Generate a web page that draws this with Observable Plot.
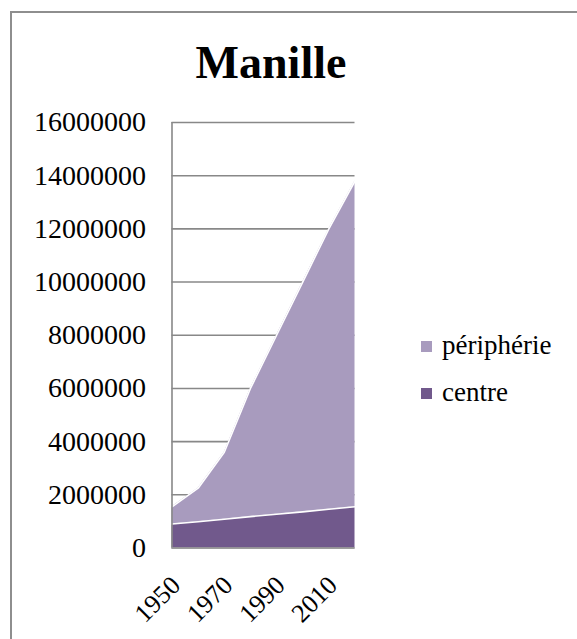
<!DOCTYPE html>
<html>
<head>
<meta charset="utf-8">
<script src="https://cdn.jsdelivr.net/npm/d3@7"></script>
<script src="https://cdn.jsdelivr.net/npm/@observablehq/plot@0.6"></script>
<style>
  html, body { margin: 0; padding: 0; background: #fff; }
  #page { position: relative; width: 577px; height: 639px; overflow: hidden; font-family: "Liberation Serif", serif; color: #000; }
  #frame { position: absolute; left: 10px; top: 11px; width: 640px; height: 720px; border: 2px solid #8e8e8e; pointer-events: none; z-index: 3; }
  #title { position: absolute; left: 0; top: 39.5px; width: 542px; height: 46px; line-height: 46px; font-size: 46px; font-weight: bold; text-align: center; }
  #chart { position: absolute; left: 0; top: 100px; }
  .lg { position: absolute; left: 421px; font-size: 27px; line-height: 27px; white-space: nowrap; }
  .sw { display: inline-block; width: 11px; height: 11px; margin-right: 10px; vertical-align: 2px; }
</style>
</head>
<body>
<div id="page">
  <div id="frame"></div>
  <div id="title">Manille</div>
  <div id="chart"></div>
  <div id="legend"></div>
</div>
<script>
const years = [1950, 1960, 1970, 1980, 1990, 2000, 2010, 2020];
const centre = [900000, 990000, 1080000, 1180000, 1270000, 1360000, 1460000, 1550000];
const peripherie = [650000, 1260000, 2520000, 4820000, 6730000, 8640000, 10540000, 12250000];
const seriesNames = ["centre", "périphérie"];
const seriesColors = ["#71598c", "#a89bbe"];
const yTicks = [0, 2000000, 4000000, 6000000, 8000000, 10000000, 12000000, 14000000, 16000000];
const xTicks = [1950, 1970, 1990, 2010];

const data = [];
years.forEach((yr, i) => data.push({year: yr, series: seriesNames[0], value: centre[i]}));
years.forEach((yr, i) => data.push({year: yr, series: seriesNames[1], value: peripherie[i]}));

const chart = Plot.plot({
  width: 577,
  height: 539,
  marginLeft: 171.5,
  marginRight: 222.5,
  marginTop: 22,
  marginBottom: 91.5,
  style: {background: "transparent", fontFamily: "Liberation Serif", fontSize: "27px", color: "#000"},
  x: {type: "linear", domain: [1950, 2020], label: null},
  y: {domain: [0, 16000000], label: null},
  color: {domain: seriesNames, range: seriesColors},
  marks: [
    Plot.gridY(yTicks, {stroke: "#888", strokeOpacity: 1, strokeWidth: 1.6}),
    Plot.areaY(data, {x: "year", y: "value", z: "series", fill: "series", fillOpacity: 1}),
    Plot.lineY(data, Plot.stackY2({x: "year", y: "value", z: "series", stroke: "white", strokeWidth: 1.6})),
    Plot.ruleX([1950], {stroke: "#888", strokeWidth: 1.6}),
    Plot.ruleY([0], {stroke: "#999", strokeWidth: 1.6}),
    Plot.axisY(yTicks, {tickSize: 0, tickPadding: 26, tickFormat: d => String(d), fontSize: 28, label: null}),
    Plot.axisX(xTicks, {tickSize: 0, tickRotate: -45, tickPadding: 33, dx: 4, tickFormat: d => String(d), fontSize: 26, label: null})
  ]
});
document.getElementById("chart").appendChild(chart);

const legendItems = [
  {name: seriesNames[1], color: seriesColors[1], top: 332.4},
  {name: seriesNames[0], color: seriesColors[0], top: 379}
];
const lg = document.getElementById("legend");
legendItems.forEach(it => {
  const row = document.createElement("div");
  row.className = "lg";
  row.style.top = it.top + "px";
  const sw = document.createElement("span");
  sw.className = "sw";
  sw.style.background = it.color;
  row.appendChild(sw);
  row.appendChild(document.createTextNode(it.name));
  lg.appendChild(row);
});
</script>
</body>
</html>
